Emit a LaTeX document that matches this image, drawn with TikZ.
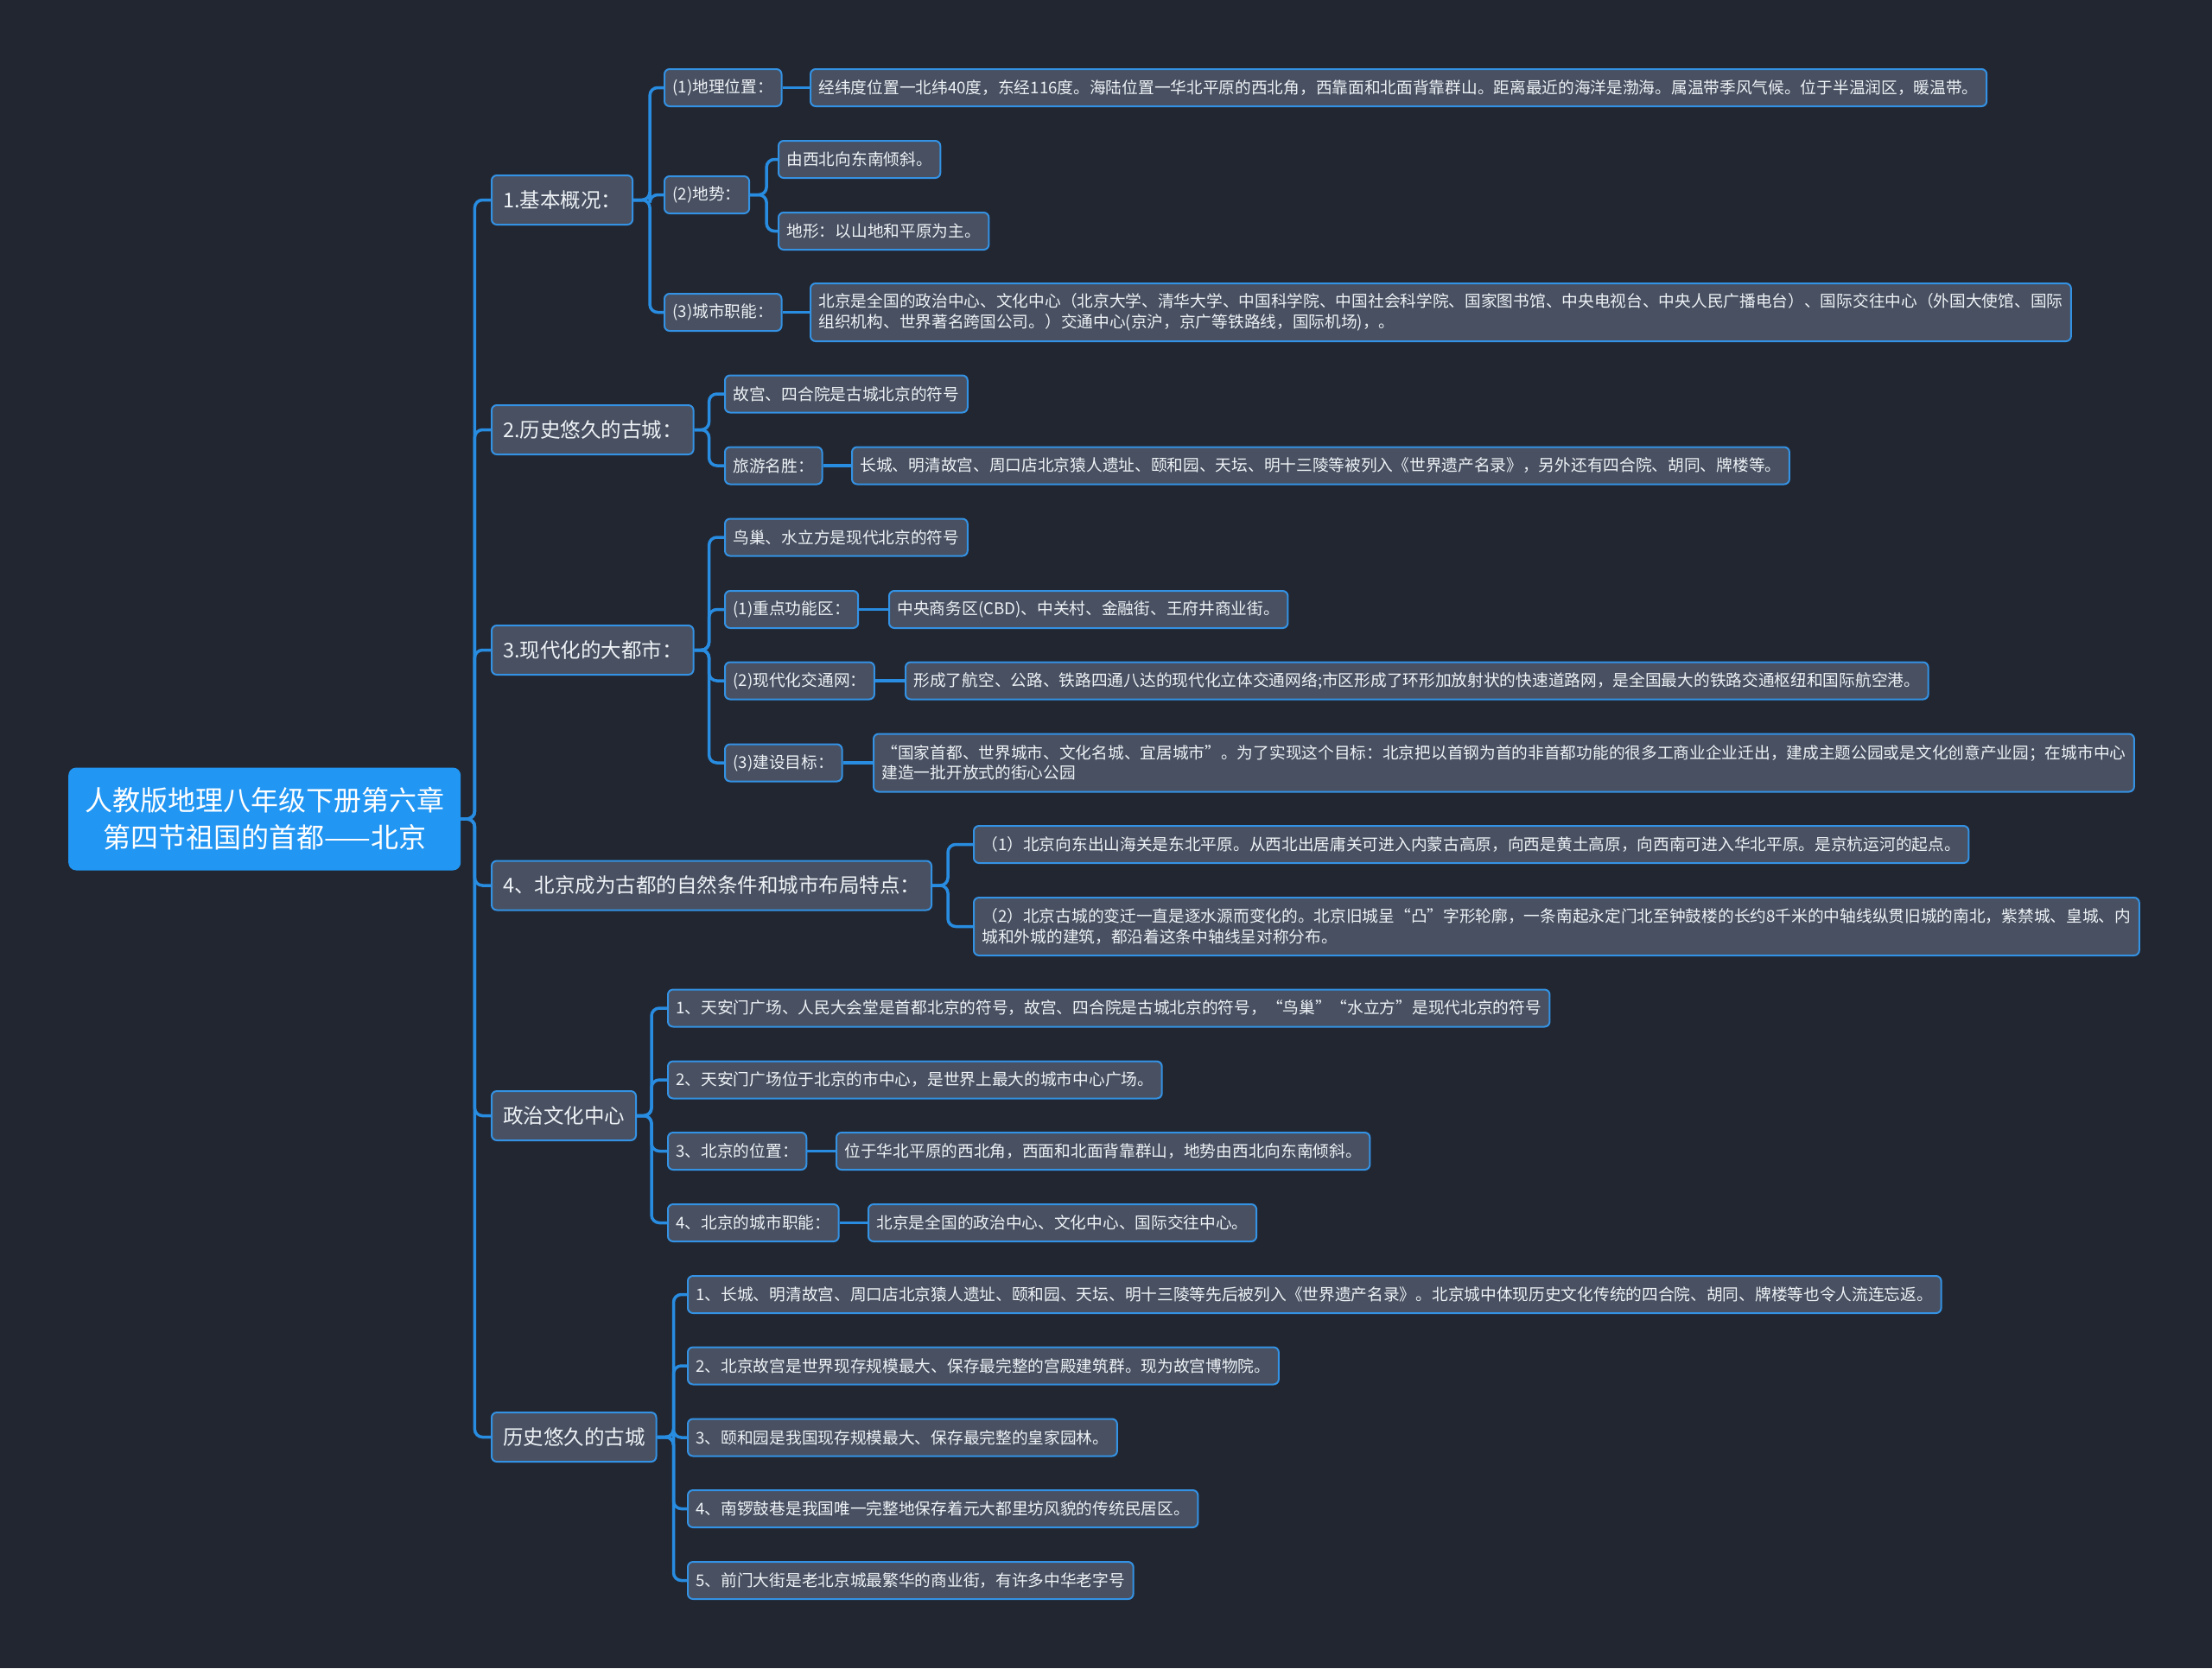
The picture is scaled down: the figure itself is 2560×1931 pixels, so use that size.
\documentclass[tikz,border=0pt]{standalone}
\usepackage{fontspec}
\setmainfont{Noto Sans CJK SC}

\definecolor{bgcol}{RGB}{34,38,49}
\definecolor{boxfill}{RGB}{72,80,97}
\definecolor{boxline}{RGB}{52,146,228}
\definecolor{linkcol}{RGB}{40,140,225}
\definecolor{rootcol}{RGB}{33,150,243}
\definecolor{txtcol}{RGB}{238,242,246}

\begin{document}
\begin{tikzpicture}[
    x=1pt, y=-1pt,
    box/.style={draw=boxline, fill=boxfill, line width=2pt, rounded corners=6pt, text=txtcol,
        anchor=west, align=left, inner xsep=9.5pt, minimum height=43pt,
        font=\fontsize{18.7pt}{23.5pt}\selectfont},
    twoline/.style={minimum height=67pt},
    topic/.style={box, inner xsep=13pt, minimum height=57pt, font=\fontsize{23.5pt}{28pt}\selectfont},
    rootbox/.style={fill=rootcol, rounded corners=9pt, text=white, anchor=west, align=center,
        inner xsep=19pt, minimum height=119pt, font=\fontsize{32pt}{43pt}\selectfont},
    link/.style={draw=linkcol, line width=3.5pt, rounded corners=9pt}
]

% 背景
\fill[bgcol] (0,0) rectangle (2560,1931);
\useasboundingbox (0,0) rectangle (2560,1931);

% ========== 中心主题 ==========
\node[rootbox] (root) at (79,948) {人教版地理八年级下册第六章\\第四节祖国的首都——北京};

% ========== 一级分支 ==========
\node[topic] (jb) at (568,231.5) {1.基本概况：};
\node[topic] (ls) at (568,497.5) {2.历史悠久的古城：};
\node[topic] (xd) at (568,752.5) {3.现代化的大都市：};
\node[topic] (gd) at (568,1025) {4、北京成为古都的自然条件和城市布局特点：};
\node[topic] (zz) at (568,1291.5) {政治文化中心};
\node[topic] (gc) at (568,1663.5) {历史悠久的古城};

\foreach \t in {jb,ls,xd,gd,zz,gc}
    \draw[link] (root.east) -- ++(16,0) |- (\t.west);

% ========== 1.基本概况 ==========
\node[box] (jb1) at (768,101.5) {(1)地理位置：};
\node[box] (jb1a) at (937,101.5) {经纬度位置一北纬40度，东经116度。海陆位置一华北平原的西北角，西靠面和北面背靠群山。距离最近的海洋是渤海。属温带季风气候。位于半温润区，暖温带。};
\node[box] (jb2) at (768,225.5) {(2)地势：};
\node[box] (jb2a) at (900,184.5) {由西北向东南倾斜。};
\node[box] (jb2b) at (900,267.5) {地形：以山地和平原为主。};
\node[box] (jb3) at (768,361.5) {(3)城市职能：};
\node[box, twoline] (jb3a) at (937,361.5) {北京是全国的政治中心、文化中心（北京大学、清华大学、中国科学院、中国社会科学院、国家图书馆、中央电视台、中央人民广播电台）、国际交往中心（外国大使馆、国际\\组织机构、世界著名跨国公司。）交通中心(京沪，京广等铁路线，国际机场)，。};

\foreach \t in {jb1,jb2,jb3}
    \draw[link] (jb.east) -- ++(19,0) |- (\t.west);
\foreach \t in {jb2a,jb2b}
    \draw[link] (jb2.east) -- ++(19,0) |- (\t.west);
\draw[link] (jb1.east) -- (jb1a.west);
\draw[link] (jb3.east) -- (jb3a.west);

% ========== 2.历史悠久的古城 ==========
\node[box] (ls1) at (838,456) {故宫、四合院是古城北京的符号};
\node[box] (ls2) at (838,539) {旅游名胜：};
\node[box] (ls2a) at (985,539) {长城、明清故宫、周口店北京猿人遗址、颐和园、天坛、明十三陵等被列入《世界遗产名录》，另外还有四合院、胡同、牌楼等。};

\foreach \t in {ls1,ls2}
    \draw[link] (ls.east) -- ++(17,0) |- (\t.west);
\draw[link] (ls2.east) -- (ls2a.west);

% ========== 3.现代化的大都市 ==========
\node[box] (xd0) at (838,622) {鸟巢、水立方是现代北京的符号};
\node[box] (xd1) at (838,705.5) {(1)重点功能区：};
\node[box] (xd1a) at (1028,705.5) {中央商务区(CBD)、中关村、金融街、王府井商业街。};
\node[box] (xd2) at (838,788) {(2)现代化交通网：};
\node[box] (xd2a) at (1047,788) {形成了航空、公路、铁路四通八达的现代化立体交通网络;市区形成了环形加放射状的快速道路网，是全国最大的铁路交通枢纽和国际航空港。};
\node[box] (xd3) at (838,883) {(3)建设目标：};
\node[box, twoline] (xd3a) at (1010,883) {“国家首都、世界城市、文化名城、宜居城市”。为了实现这个目标：北京把以首钢为首的非首都功能的很多工商业企业迁出，建成主题公园或是文化创意产业园；在城市中心\\建造一批开放式的街心公园};

\foreach \t in {xd0,xd1,xd2,xd3}
    \draw[link] (xd.east) -- ++(17,0) |- (\t.west);
\foreach \a/\b in {xd1/xd1a,xd2/xd2a,xd3/xd3a}
    \draw[link] (\a.east) -- (\b.west);

% ========== 4.古都的自然条件 ==========
\node[box] (gd1) at (1126,977.5) {（1）北京向东出山海关是东北平原。从西北出居庸关可进入内蒙古高原，向西是黄土高原，向西南可进入华北平原。是京杭运河的起点。};
\node[box, twoline] (gd2) at (1126,1072.5) {（2）北京古城的变迁一直是逐水源而变化的。北京旧城呈“凸”字形轮廓，一条南起永定门北至钟鼓楼的长约8千米的中轴线纵贯旧城的南北，紫禁城、皇城、内\\城和外城的建筑，都沿着这条中轴线呈对称分布。};

\foreach \t in {gd1,gd2}
    \draw[link] (gd.east) -- ++(18,0) |- (\t.west);

% ========== 政治文化中心 ==========
\node[box] (zz1) at (772,1167) {1、天安门广场、人民大会堂是首都北京的符号，故宫、四合院是古城北京的符号，“鸟巢”“水立方”是现代北京的符号};
\node[box] (zz2) at (772,1250) {2、天安门广场位于北京的市中心，是世界上最大的城市中心广场。};
\node[box] (zz3) at (772,1332.5) {3、北京的位置：};
\node[box] (zz3a) at (967,1332.5) {位于华北平原的西北角，西面和北面背靠群山，地势由西北向东南倾斜。};
\node[box] (zz4) at (772,1415.5) {4、北京的城市职能：};
\node[box] (zz4a) at (1004,1415.5) {北京是全国的政治中心、文化中心、国际交往中心。};

\foreach \t in {zz1,zz2,zz3,zz4}
    \draw[link] (zz.east) -- ++(17,0) |- (\t.west);
\foreach \a/\b in {zz3/zz3a,zz4/zz4a}
    \draw[link] (\a.east) -- (\b.west);

% ========== 历史悠久的古城 ==========
\node[box] (gc1) at (795,1498.5) {1、长城、明清故宫、周口店北京猿人遗址、颐和园、天坛、明十三陵等先后被列入《世界遗产名录》。北京城中体现历史文化传统的四合院、胡同、牌楼等也令人流连忘返。};
\node[box] (gc2) at (795,1581) {2、北京故宫是世界现存规模最大、保存最完整的宫殿建筑群。现为故宫博物院。};
\node[box] (gc3) at (795,1664) {3、颐和园是我国现存规模最大、保存最完整的皇家园林。};
\node[box] (gc4) at (795,1746.5) {4、南锣鼓巷是我国唯一完整地保存着元大都里坊风貌的传统民居区。};
\node[box] (gc5) at (795,1829.5) {5、前门大街是老北京城最繁华的商业街，有许多中华老字号};

\foreach \t in {gc1,gc2,gc3,gc4,gc5}
    \draw[link] (gc.east) -- ++(19,0) |- (\t.west);

\end{tikzpicture}
\end{document}
